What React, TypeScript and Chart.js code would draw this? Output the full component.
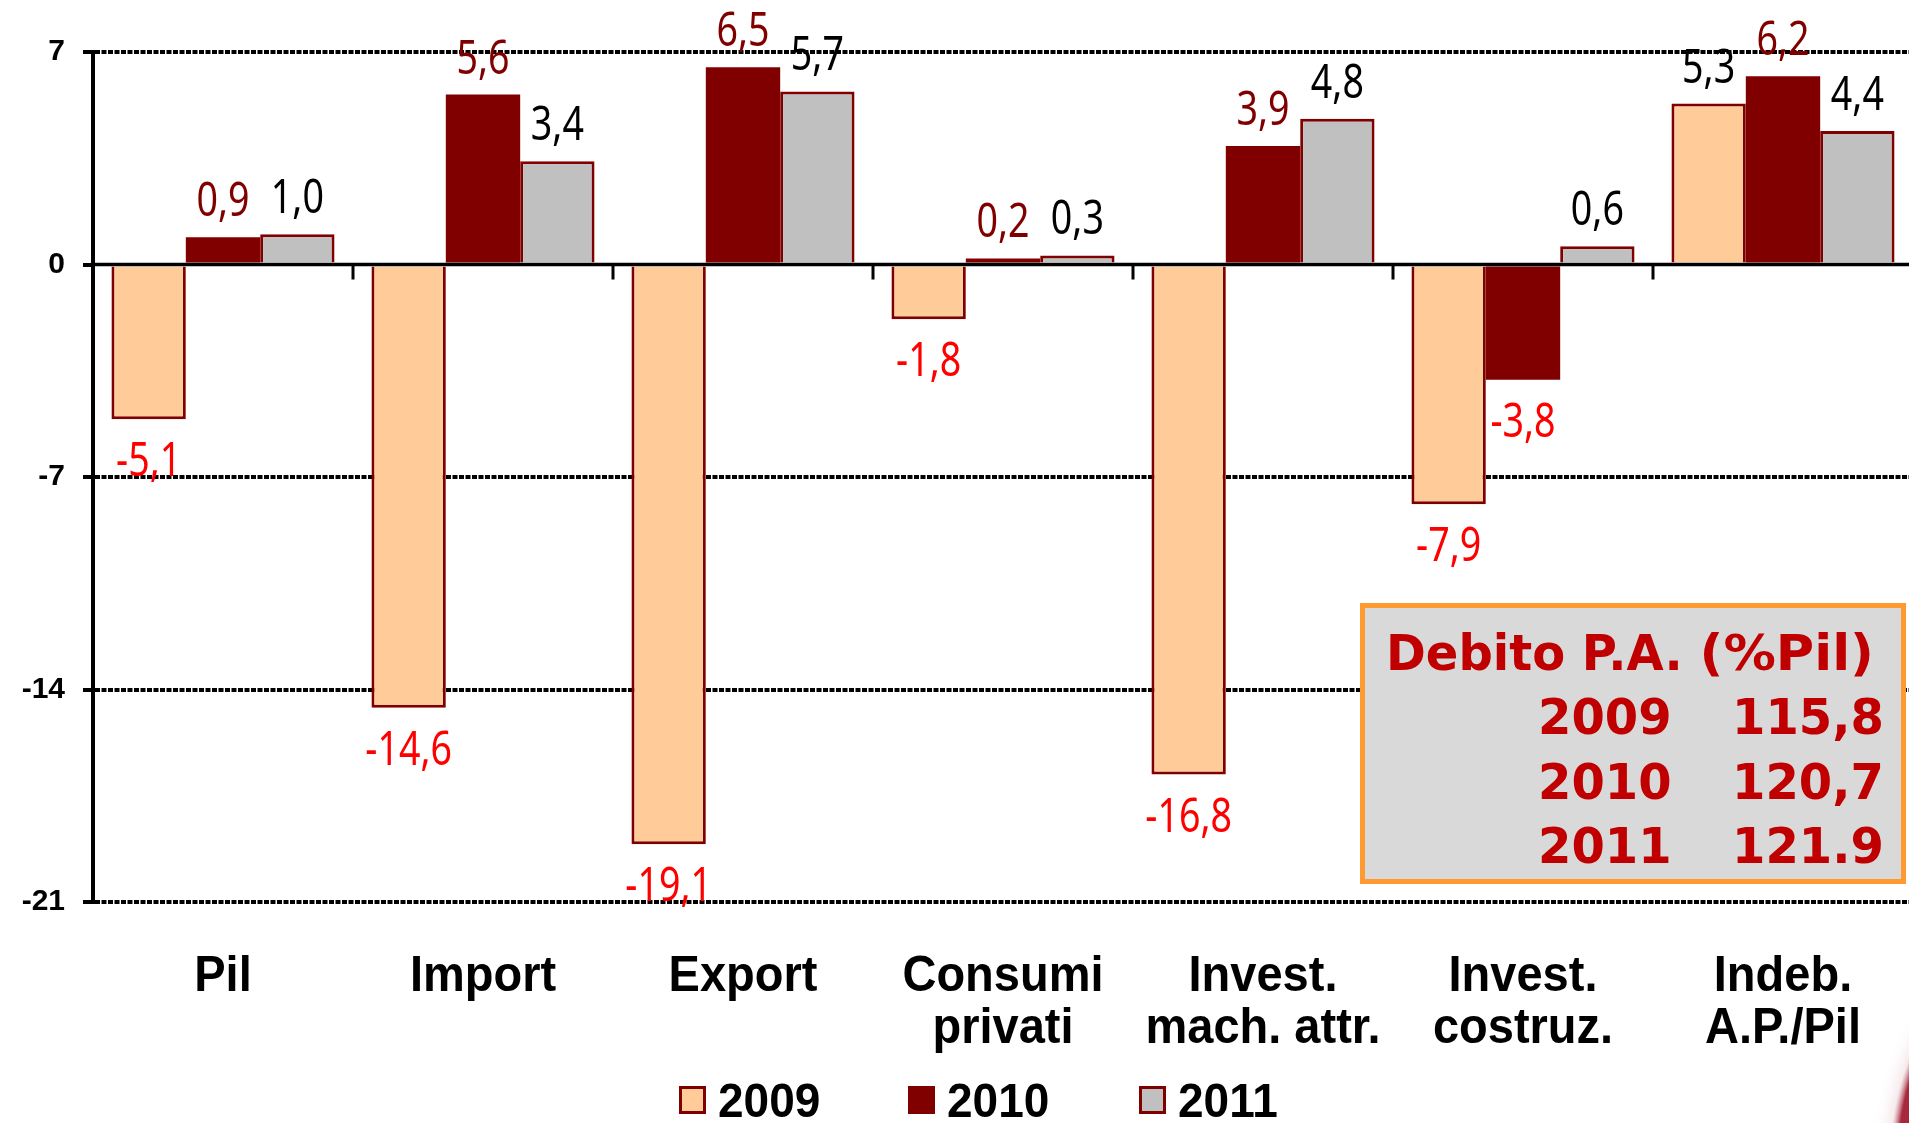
import React, { useEffect, useRef } from 'react';
import { Chart, registerables } from 'chart.js';

Chart.register(...registerables);

// ---- data ----
const categories: string[][] = [
  ['Pil'],
  ['Import'],
  ['Export'],
  ['Consumi', 'privati'],
  ['Invest.', 'mach. attr.'],
  ['Invest.', 'costruz.'],
  ['Indeb.', 'A.P./Pil'],
];
const seriesNames = ['2009', '2010', '2011'];
const values2009 = [-5.1, -14.6, -19.1, -1.8, -16.8, -7.9, 5.3];
const values2010 = [0.9, 5.6, 6.5, 0.2, 3.9, -3.8, 6.2];
const values2011 = [1.0, 3.4, 5.7, 0.3, 4.8, 0.6, 4.4];
const yMin = -21;
const yMax = 7;
const yStep = 7;
const debitoTitle = ['Debito P.A.', '(%Pil)'];
const debitoYears = ['2009', '2010', '2011'];
const debitoValues = ['115,8', '120,7', '121.9'];

// ---- styles ----
const fills = ['#FFCC99', '#800000', '#C0C0C0'];
const DARK = '#800000';
const W = 1913;
const H = 1123;

function drawText(
  ctx: CanvasRenderingContext2D,
  text: string,
  x: number,
  y: number,
  font: string,
  color: string,
  align: CanvasTextAlign,
  sx = 1,
  sy = 1
) {
  ctx.save();
  ctx.translate(x, y);
  ctx.scale(sx, sy);
  ctx.font = font;
  ctx.fillStyle = color;
  ctx.textAlign = align;
  ctx.textBaseline = 'alphabetic';
  ctx.fillText(text, 0, 0);
  ctx.restore();
}

const fmt = (v: number) => v.toFixed(1).replace('.', ',');

const overlayPlugin = {
  id: 'overlay',
  afterDatasetsDraw(chart: any) {
    const ctx: CanvasRenderingContext2D = chart.ctx;
    const xs = chart.scales.x;
    const ys = chart.scales.y;
    const area = chart.chartArea;
    const y0 = ys.getPixelForValue(0);
    const n = categories.length;
    const step = xs.getPixelForValue(1) - xs.getPixelForValue(0);

    // zero line
    ctx.save();
    ctx.strokeStyle = '#000';
    ctx.lineWidth = 3.5;
    ctx.beginPath();
    ctx.moveTo(area.left, y0);
    ctx.lineTo(area.right, y0);
    ctx.stroke();
    // category tick marks
    ctx.lineWidth = 3;
    for (let i = 1; i <= n; i++) {
      const x = xs.getPixelForValue(i - 1) + step / 2;
      ctx.beginPath();
      ctx.moveTo(x, y0);
      ctx.lineTo(x, y0 + 15);
      ctx.stroke();
    }
    ctx.restore();

    // data labels
    const dataFont = '47px "Noto Sans"';
    chart.data.datasets.forEach((ds: any, di: number) => {
      const meta = chart.getDatasetMeta(di);
      meta.data.forEach((el: any, i: number) => {
        const v = ds.data[i];
        let color = '#000';
        if (v < 0) color = '#FF0000';
        else if (di === 1) color = DARK;
        const txt = fmt(v);
        if (v >= 0) {
          drawText(ctx, txt, el.x, el.y - 21, dataFont, color, 'center', 0.8, 1);
        } else {
          drawText(ctx, txt, el.x, el.y + 23 + 34, dataFont, color, 'center', 0.8, 1);
        }
      });
    });
  },
  afterDraw(chart: any) {
    const ctx: CanvasRenderingContext2D = chart.ctx;
    const xs = chart.scales.x;

    // category labels
    const catFont = 'bold 47px "Liberation Sans"';
    categories.forEach((lines, i) => {
      const x = xs.getPixelForValue(i);
      lines.forEach((line, li) => {
        drawText(ctx, line, x, 991 + li * 52, catFont, '#000', 'center', 1, 1.06);
      });
    });

    // legend
    const legBoxX = [679, 908, 1139];
    const legFont = 'bold 46px "Liberation Sans"';
    seriesNames.forEach((name, i) => {
      const bx = legBoxX[i];
      ctx.save();
      ctx.fillStyle = fills[i];
      ctx.fillRect(bx, 1086, 27, 28);
      ctx.strokeStyle = DARK;
      ctx.lineWidth = 3;
      ctx.strokeRect(bx + 1.5, 1087.5, 24, 25);
      ctx.restore();
      drawText(ctx, name, bx + 39, 1117, legFont, '#000', 'left', 1, 1.06);
    });

    // debito box
    ctx.save();
    ctx.fillStyle = '#D9D9D9';
    ctx.fillRect(1362, 605, 542, 277);
    ctx.strokeStyle = '#FF9A33';
    ctx.lineWidth = 5;
    ctx.strokeRect(1362.5, 605.5, 541, 276);
    ctx.restore();
    const boxFont = 'bold 48px "DejaVu Sans"';
    const RED = '#C00000';
    drawText(ctx, debitoTitle[0], 1386, 670, boxFont, RED, 'left', 1, 1.04);
    drawText(ctx, debitoTitle[1], 1874, 670, boxFont, RED, 'right', 1.09, 1.04);
    debitoYears.forEach((yr, i) => {
      const by = 734 + i * 64.5;
      drawText(ctx, yr, 1538, by, boxFont, RED, 'left', 1, 1.04);
      drawText(ctx, debitoValues[i], 1732, by, boxFont, RED, 'left', 1, 1.04);
    });

    // corner decoration
    ctx.save();
    const grad = ctx.createRadialGradient(2170, 1160, 200, 2170, 1160, 300);
    grad.addColorStop(0, '#9E1F35');
    grad.addColorStop(0.72, '#A8283E');
    grad.addColorStop(0.8, 'rgba(240,220,224,0.6)');
    grad.addColorStop(1, 'rgba(255,255,255,0)');
    ctx.beginPath();
    ctx.arc(2170, 1160, 300, 0, Math.PI * 2);
    ctx.fillStyle = grad;
    ctx.fill();
    ctx.restore();
  },
};

export default function App() {
  const ref = useRef<HTMLCanvasElement | null>(null);

  useEffect(() => {
    if (!ref.current) return;
    const chart = new Chart(ref.current, {
      type: 'bar',
      data: {
        labels: categories.map((c) => c.join(' ')),
        datasets: [
          { label: seriesNames[0], data: values2009, backgroundColor: fills[0], borderColor: DARK, borderWidth: 3 },
          { label: seriesNames[1], data: values2010, backgroundColor: fills[1], borderColor: DARK, borderWidth: 0 },
          { label: seriesNames[2], data: values2011, backgroundColor: fills[2], borderColor: DARK, borderWidth: 3 },
        ],
      },
      options: {
        responsive: false,
        animation: false,
        layout: { padding: { left: 0, top: 52, right: 0, bottom: 221 } },
        plugins: { legend: { display: false }, tooltip: { enabled: false } },
        datasets: { bar: { categoryPercentage: 0.858, barPercentage: 1 } },
        scales: {
          x: { display: false },
          y: {
            min: yMin,
            max: yMax,
            afterFit: (s: any) => {
              s.width = 93;
            },
            ticks: {
              stepSize: yStep,
              padding: 18,
              color: '#000',
              font: { family: 'Liberation Sans', weight: 'bold', size: 30 },
              callback: (v: any) => String(v),
            },
            grid: {
              color: (c: any) => (c.tick && c.tick.value === 0 ? 'rgba(0,0,0,0)' : '#000'),
              lineWidth: 4,
              tickLength: 10,
              tickColor: '#000',
              tickWidth: 4,
            },
            border: { display: true, color: '#000', width: 4, dash: [5, 1.5] },
          },
        },
      } as any,
      plugins: [overlayPlugin],
    });
    return () => chart.destroy();
  }, []);

  return (
    <div
      style={{
        position: 'fixed',
        left: 0,
        top: 0,
        width: 1909,
        height: 1123,
        overflow: 'hidden',
        background: '#fff',
      }}
    >
      <canvas ref={ref} width={W} height={H} style={{ display: 'block', width: W, height: H }} />
    </div>
  );
}
